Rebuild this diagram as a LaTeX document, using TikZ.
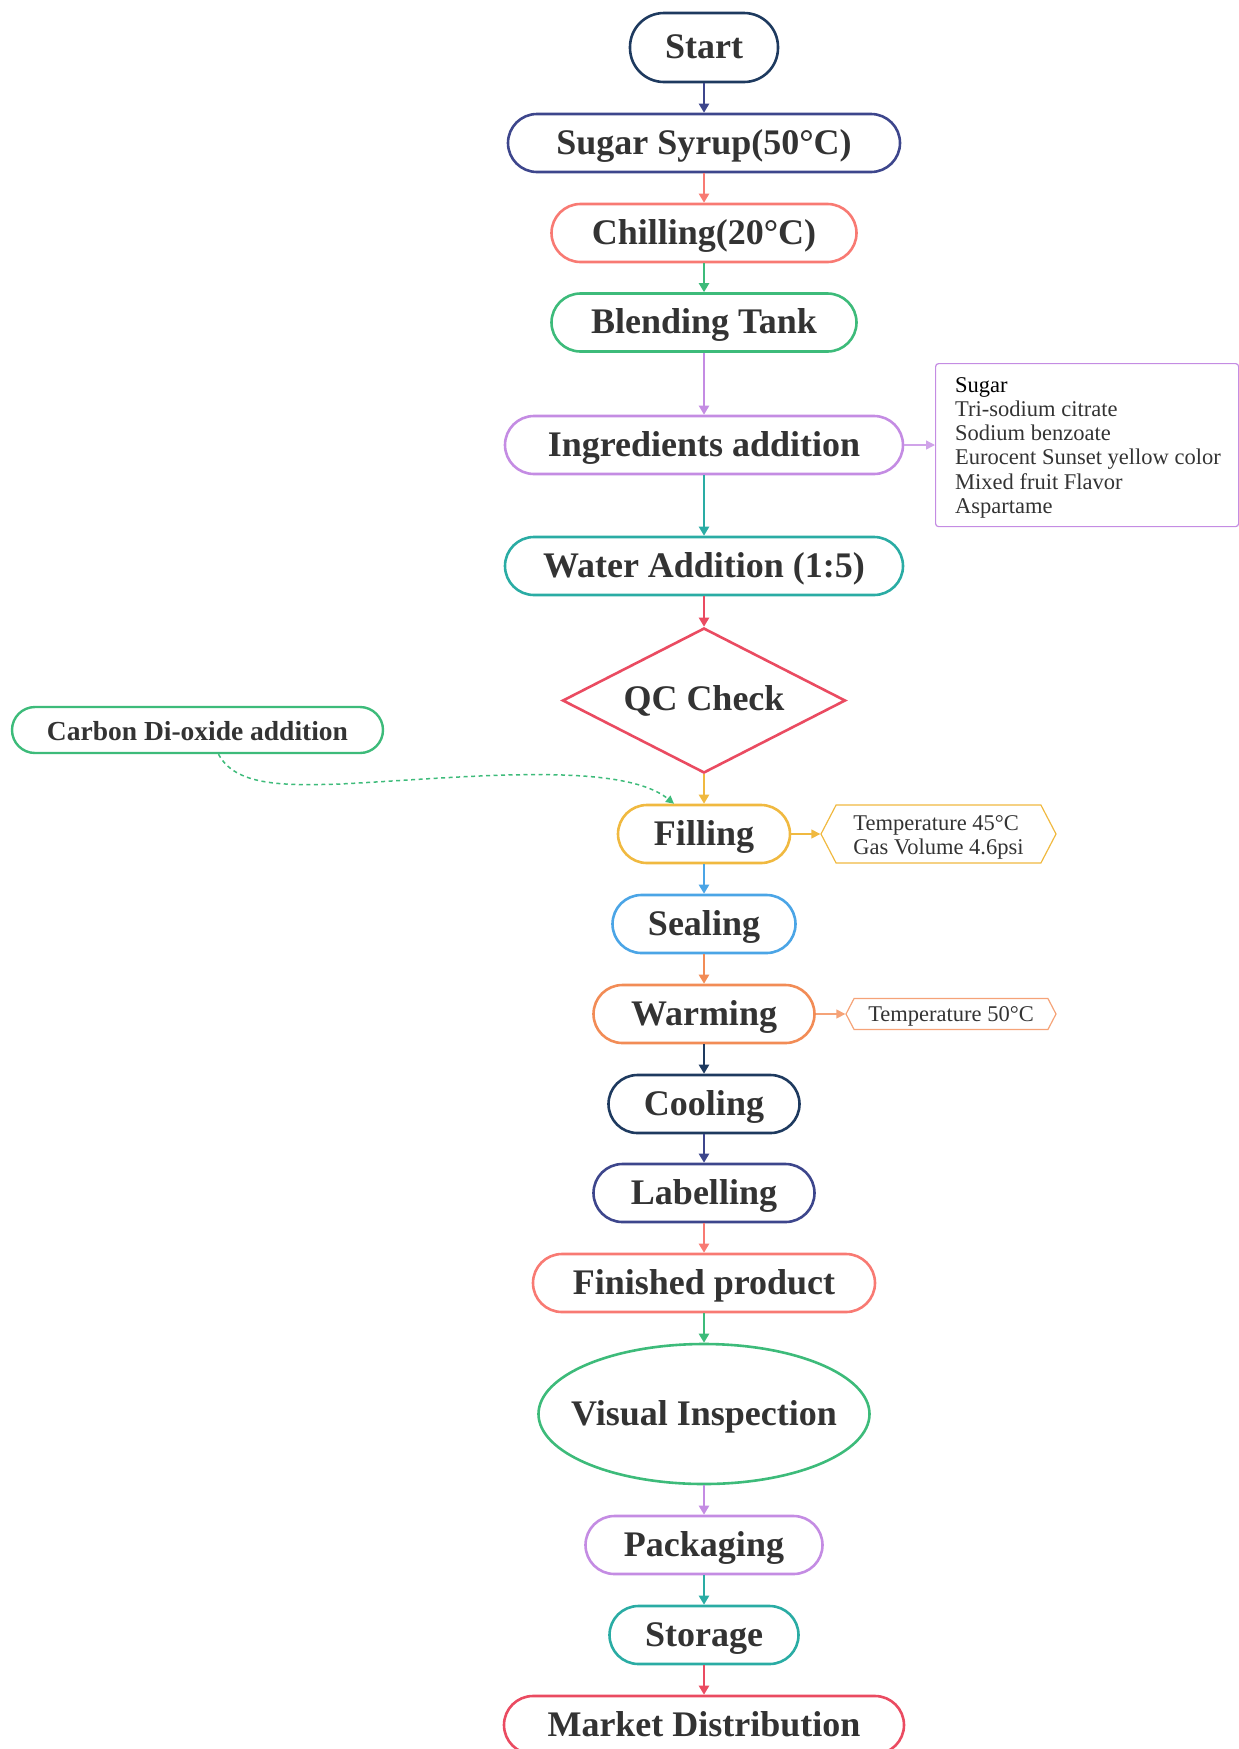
\documentclass[tikz,border=0pt]{standalone}
\usepackage{fontspec}
\setmainfont{Liberation Serif}
\usetikzlibrary{arrows.meta,shapes.geometric,shapes.symbols}

\definecolor{cnavy}{HTML}{1E3A5F}
\definecolor{cindigo}{HTML}{3D468C}
\definecolor{csalmon}{HTML}{F87A73}
\definecolor{cgreen}{HTML}{3DBB7A}
\definecolor{cpurple}{HTML}{C48CE3}
\definecolor{cteal}{HTML}{2AACA4}
\definecolor{cred}{HTML}{EA4B61}
\definecolor{cyellow}{HTML}{F0B940}
\definecolor{cblue}{HTML}{4BA5E6}
\definecolor{corange}{HTML}{F28C56}
\definecolor{ctext}{HTML}{333333}

\tikzset{
  bigtext/.style={text=ctext, font=\fontsize{36}{40}\selectfont\bfseries,
    text height=22pt, text depth=0pt},
  stepbox/.style 2 args={draw=#1, line width=2.6pt, rounded corners=29pt,
    minimum width=#2, minimum height=58pt, inner sep=0pt, bigtext},
  conn/.style={draw=#1, line width=2.2pt, -{Triangle[length=9pt,width=10pt]}},
  sideconn/.style={draw=#1, line width=1.4pt, -{Triangle[length=9pt,width=9pt]}},
  notebox/.style={draw=#1, line width=1.2pt, text=ctext,
    font=\fontsize{22.5}{24.5}\selectfont},
  tag/.style 2 args={notebox=#1, signal, signal to=east and west,
    signal pointer angle=125, minimum width=#2, inner sep=0pt, align=left}
}

\begin{document}
\begin{tikzpicture}[x=1pt,y=-1pt]
\useasboundingbox (0,0) rectangle (1239,1749);

% main process chain
\node[stepbox={cnavy}{148pt}, minimum height=69pt, rounded corners=34pt] (start) at (704,47.5) {Start};
\node[stepbox={cindigo}{392pt}] (sugar) at (704,143) {Sugar Syrup(50°C)};
\node[stepbox={csalmon}{305pt}] (chill) at (704,233) {Chilling(20°C)};
\node[stepbox={cgreen}{305pt}] (blend) at (704,322.5) {Blending Tank};
\node[stepbox={cpurple}{398pt}] (ingr) at (704,445) {Ingredients addition};
\node[stepbox={cteal}{398pt}] (water) at (704,566) {Water Addition (1:5)};
\node[draw=cred, line width=2.6pt, diamond, aspect=1.95, minimum width=283pt, minimum height=145pt,
      inner sep=0pt, bigtext, text height=19pt] (qc) at (704,700.5) {QC Check};
\node[stepbox={cyellow}{172pt}] (fill) at (704,834) {Filling};
\node[stepbox={cblue}{183pt}] (seal) at (704,924) {Sealing};
\node[stepbox={corange}{221pt}] (warm) at (704,1014) {Warming};
\node[stepbox={cnavy}{191pt}] (cool) at (704,1104) {Cooling};
\node[stepbox={cindigo}{221pt}] (label) at (704,1193) {Labelling};
\node[stepbox={csalmon}{342pt}] (fin) at (704,1283) {Finished product};
\node[draw=cgreen, line width=2.6pt, ellipse, minimum width=331pt, minimum height=140pt,
      inner sep=0pt, bigtext] (vis) at (704,1414) {\makebox[0pt][c]{Visual Inspection}};
\node[stepbox={cpurple}{237pt}] (pack) at (704,1545) {Packaging};
\node[stepbox={cteal}{189pt}] (store) at (704,1635) {Storage};
\node[stepbox={cred}{400pt}] (market) at (704,1725) {Market Distribution};

% side inputs and notes
\node[draw=cgreen, line width=2.4pt, rounded corners=23pt, minimum width=371pt, minimum height=46pt,
      inner sep=0pt, text=ctext, font=\fontsize{27.5}{30}\selectfont\bfseries,
      text height=20pt, text depth=0pt] (co2) at (197.5,730) {Carbon Di-oxide addition};
\node[notebox=cpurple, rounded corners=3pt, minimum width=303pt, minimum height=163pt,
      anchor=north west, inner sep=0pt] (ingrnote) at (935,363) {};
\node[anchor=north west, align=left, text=ctext, inner sep=0pt,
      font=\fontsize{22.5}{24.1}\selectfont] (ingrlist) at (955,377.5)
  {\textcolor{black}{Sugar}\\Tri-sodium citrate\\Sodium benzoate\\Eurocent Sunset yellow color\\Mixed fruit Flavor\\Aspartame};
\node[tag={cyellow}{235pt}, minimum height=58pt] (fillnote) at (938.5,834)
  {\raisebox{-3.5pt}[\height][\depth]{\shortstack[l]{Temperature 45°C\\[1pt]Gas Volume 4.6psi}}};
\node[tag={corange!80}{210pt}, minimum height=31pt] (warmnote) at (951,1014)
  {\raisebox{-2.5pt}[\height][\depth]{Temperature 50°C}};

% connectors
\draw[conn=cindigo] (start) -- (sugar);
\draw[conn=csalmon] (sugar) -- (chill);
\draw[conn=cgreen] (chill) -- (blend);
\draw[conn=cpurple] (blend) -- (ingr);
\draw[conn=cteal] (ingr) -- (water);
\draw[conn=cred] (water) -- (qc);
\draw[conn=cyellow] (qc) -- (fill);
\draw[conn=cblue] (fill) -- (seal);
\draw[conn=corange] (seal) -- (warm);
\draw[conn=cnavy] (warm) -- (cool);
\draw[conn=cindigo] (cool) -- (label);
\draw[conn=csalmon] (label) -- (fin);
\draw[conn=cgreen] (fin) -- (vis);
\draw[conn=cpurple] (vis) -- (pack);
\draw[conn=cteal] (pack) -- (store);
\draw[conn=cred] (store) -- (market);

\draw[sideconn=cpurple!80] (ingr.east) -- (ingrnote.west |- ingr.east);
\draw[sideconn=cyellow] (fill.east) -- (fillnote.west);
\draw[sideconn=corange!80] (warm.east) -- (warmnote.west);

\draw[draw=cgreen, line width=1.5pt, dash pattern=on 4pt off 3.5pt,
      -{Triangle[length=8pt,width=8pt]}]
  ([xshift=21pt]co2.south) .. controls (235,785) and (280,786) .. (340,784)
  .. controls (460,778) and (620,760) .. ([xshift=-30pt]fill.north);
\end{tikzpicture}
\end{document}
